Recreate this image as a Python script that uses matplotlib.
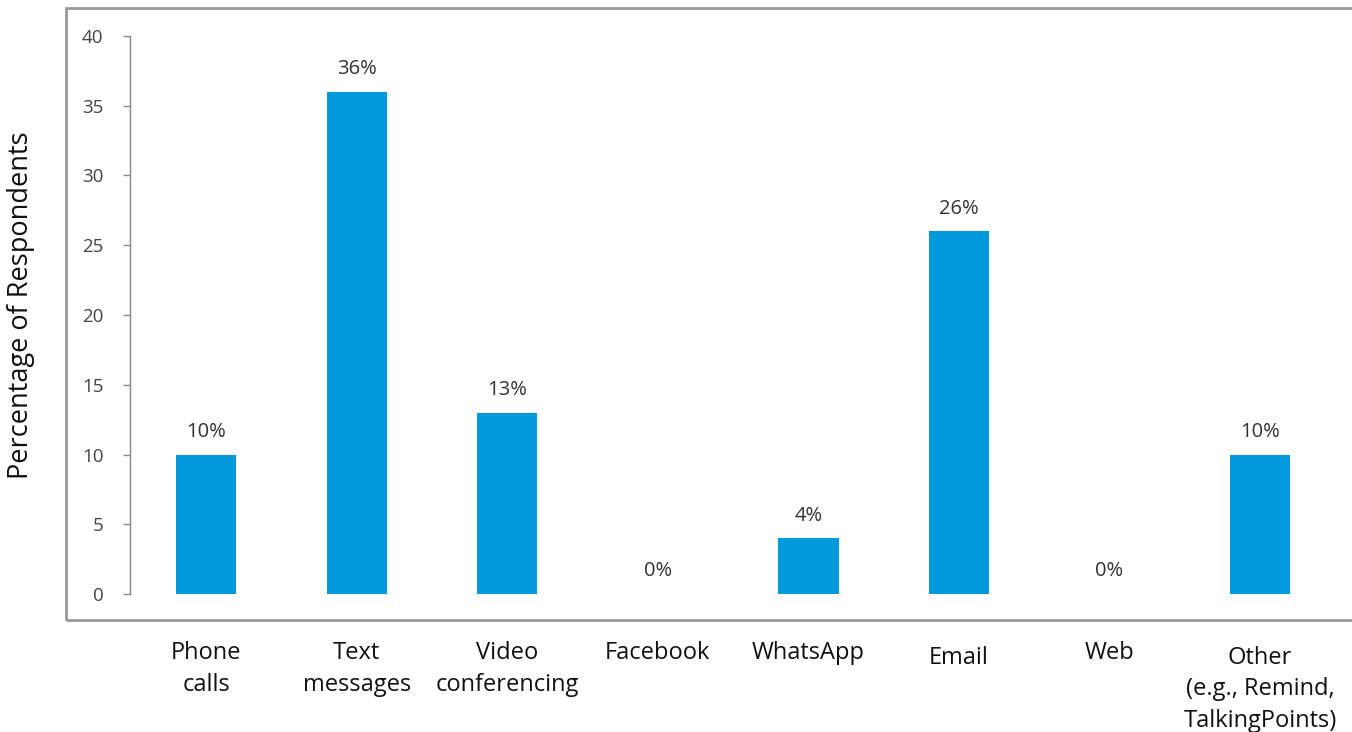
import matplotlib
matplotlib.use('Agg')
import numpy as np
from matplotlib import pyplot as plt
from matplotlib.patches import Rectangle

categories = ['Phone\ncalls', 'Text\nmessages', 'Video\nconferencing', 'Facebook',
              'WhatsApp', 'Email', 'Web', 'Other\n(e.g., Remind,\nTalkingPoints)']
values = [10, 36, 13, 0, 4, 26, 0, 10]
value_labels = ['10%', '36%', '13%', '0%', '4%', '26%', '0%', '10%']
yticks = [0, 5, 10, 15, 20, 25, 30, 35, 40]

plt.rcParams['font.family'] = ['Open Sans', 'DejaVu Sans']

W, H = 1352, 732
fig = plt.figure(figsize=(W / 100, H / 100), dpi=100)
ax = fig.add_axes([130 / W, 138 / H, (W - 130) / W, 558 / H])

x = np.arange(len(categories))
ax.bar(x, values, width=0.4, color='#0399DD')

for xi, v, lab in zip(x, values, value_labels):
    ax.annotate(lab, (xi, v), xytext=(0, 9), textcoords='offset points',
                ha='center', va='bottom', fontsize=14.5, color='#333333')

ax.set_xlim(-0.505, 7.61)
ax.set_ylim(0, 40)
ax.set_yticks(yticks)
ax.set_xticks(x)
ax.set_xticklabels(categories, fontsize=17, linespacing=1.42, color='#111111')
ax.tick_params(axis='x', length=0, pad=34)
ax.tick_params(axis='y', length=5, width=1, color='#888888', labelcolor='#444444',
               labelsize=13.5, pad=14)
# Email and Other sit a little lower
for i in (5, 7):
    lbl = ax.get_xticklabels()[i]
    lbl.set_y(-0.008)

for s in ['top', 'right', 'bottom']:
    ax.spines[s].set_visible(False)
ax.spines['left'].set_color('#888888')
ax.spines['left'].set_linewidth(1)

ax.set_ylabel('Percentage of Respondents', fontsize=19.5, color='#111111')
ax.yaxis.set_label_coords(-0.078, 0.518)

# outer frame
fig.patches.append(Rectangle((66 / W, (H - 620) / H), (W - 60) / W, 612 / H,
                             transform=fig.transFigure, fill=False,
                             edgecolor='#999999', linewidth=2))

plt.savefig('out.png', dpi=100)
